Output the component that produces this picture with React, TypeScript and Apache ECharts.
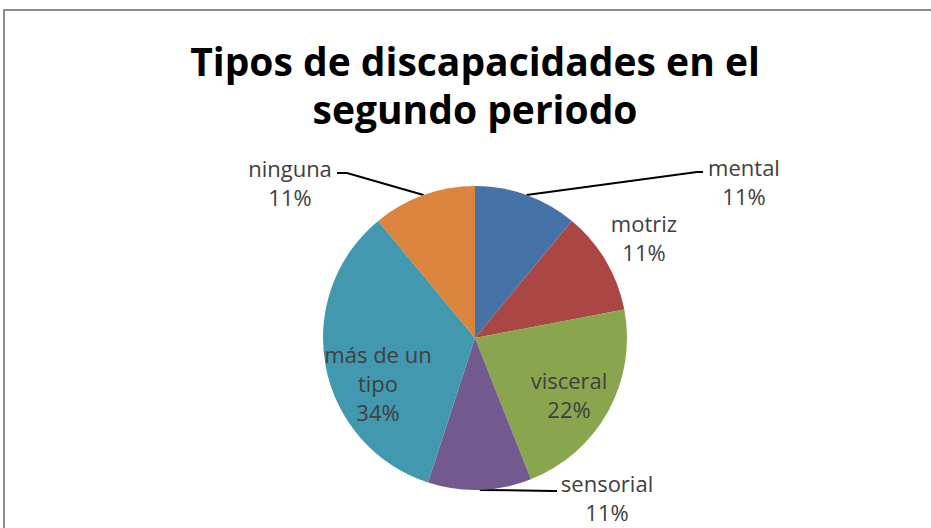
import React, { useEffect, useRef } from "react";
import * as echarts from "echarts";

// ---- data ----
const titleLines = ["Tipos de discapacidades en el", "segundo periodo"];
const categories = ["mental", "motriz", "visceral", "sensorial", "más de un tipo", "ninguna"];
const values = [11, 11, 22, 11, 34, 11];
const labelNames = ["mental", "motriz", "visceral", "sensorial", "más de un\ntipo", "ninguna"];
const colors = ["#4572A7", "#AA4643", "#89A54E", "#725A8F", "#4198AF", "#DB843D"];

// ---- layout (styles / positions, not data) ----
const CX = 475;
const CY = 338;
const R = 152;
// label block centre, whether it has a guide line, elbow of the guide line and the horizontal tail
const labelLayoutCfg: Array<{
  cx: number;
  cy: number;
  inside: boolean;
  line: boolean;
  elbow?: [number, number];
  tail?: number;
}> = [
  { cx: 744, cy: 181, inside: false, line: true, elbow: [697, 172], tail: 6 },
  { cx: 644, cy: 237, inside: false, line: false },
  { cx: 569, cy: 394, inside: true, line: false },
  { cx: 607, cy: 497.5, inside: false, line: true, elbow: [553, 491], tail: 4 },
  { cx: 378, cy: 383, inside: true, line: false },
  { cx: 290, cy: 182, inside: false, line: true, elbow: [347, 173], tail: -10 },
];

function midAngles(vals: number[]): number[] {
  const total = vals.reduce((a, b) => a + b, 0);
  let acc = 0;
  return vals.map((v) => {
    const start = acc;
    acc += v;
    return ((start + v / 2) / total) * 360;
  });
}

export default function App() {
  const ref = useRef<HTMLDivElement>(null);

  useEffect(() => {
    if (!ref.current) return;
    const chart = echarts.init(ref.current, null, { renderer: "svg" });
    const mids = midAngles(values);
    const fontFamily = "'Open Sans', 'Noto Sans', sans-serif";

    const data = categories.map((name, i) => {
      const cfg = labelLayoutCfg[i];
      return {
        name,
        value: values[i],
        itemStyle: { color: colors[i] },
        label: {
          show: true,
          position: cfg.inside ? "inside" : "outside",
          formatter: (p: any) => `${labelNames[p.dataIndex]}\n${p.percent}%`,
        },
        labelLine: { show: cfg.line },
      };
    });

    chart.setOption({
      animation: false,
      backgroundColor: "#ffffff",
      title: {
        text: titleLines.join("\n"),
        left: CX,
        top: 36,
        padding: 0,
        textAlign: "center",
        textStyle: {
          fontFamily,
          fontSize: 39,
          fontWeight: "bold",
          color: "#000000",
          lineHeight: 48,
        },
      },
      graphic: [
        {
          type: "rect",
          shape: { x: 4, y: 10, width: 1200, height: 1200 },
          style: { fill: "none", stroke: "#8c8c8c", lineWidth: 2 },
          silent: true,
        },
      ],
      series: [
        {
          type: "pie",
          center: [CX, CY],
          radius: R,
          startAngle: 90,
          clockwise: true,
          avoidLabelOverlap: false,
          percentPrecision: 0,
          itemStyle: { borderWidth: 0 },
          label: {
            fontFamily,
            fontSize: 22,
            lineHeight: 29,
            color: "#404040",
            align: "center",
          },
          labelLine: {
            lineStyle: { color: "#000000", width: 2 },
            smooth: false,
          },
          labelLayout: (params: any) => {
            const i = params.dataIndex;
            const cfg = labelLayoutCfg[i];
            const a = (mids[i] * Math.PI) / 180;
            const out: any = {
              x: cfg.cx,
              y: cfg.cy,
              align: "center",
              verticalAlign: "middle",
            };
            if (cfg.line && cfg.elbow) {
              const ax = CX + R * Math.sin(a);
              const ay = CY - R * Math.cos(a);
              out.labelLinePoints = [
                [ax, ay],
                cfg.elbow,
                [cfg.elbow[0] + (cfg.tail || 0), cfg.elbow[1]],
              ];
            }
            return out;
          },
          data,
        },
      ],
    });

    return () => chart.dispose();
  }, []);

  return (
    <div
      ref={ref}
      style={{ position: "fixed", left: 0, top: 0, width: 931, height: 528, overflow: "hidden" }}
    />
  );
}
